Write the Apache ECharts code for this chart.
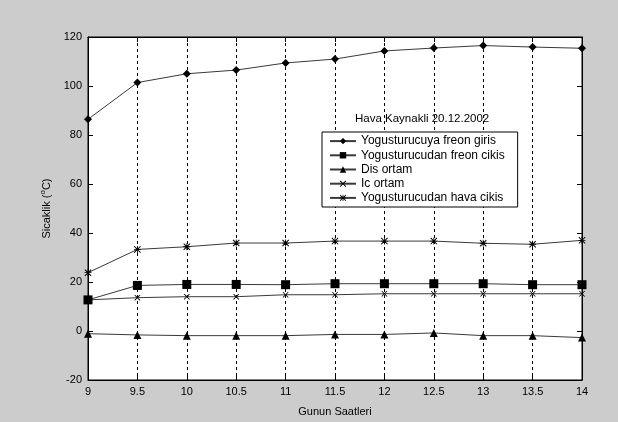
<!DOCTYPE html>
<html>
<head>
<meta charset="utf-8">
<style>
  html, body { margin: 0; padding: 0; background: #cccccc; }
  #chart { width: 618px; height: 422px; }
</style>
<script src="https://cdn.jsdelivr.net/npm/echarts@6/dist/echarts.min.js"></script>
</head>
<body>
<div id="chart"></div>
<script>
// Hours of the day (x values)
const hours = [9, 9.5, 10, 10.5, 11, 11.5, 12, 12.5, 13, 13.5, 14];

// Temperatures, °C
const freonGiris = [86.4, 101.4, 105, 106.5, 109.4, 111, 114.3, 115.5, 116.5, 115.9, 115.4];
const freonCikis = [12.7, 18.6, 19, 19, 18.9, 19.3, 19.3, 19.3, 19.3, 18.9, 18.9];
const disOrtam = [-1.1, -1.6, -1.9, -1.9, -1.9, -1.4, -1.4, -0.8, -1.9, -1.9, -2.7];
const icOrtam = [12.7, 13.6, 14, 14, 14.8, 14.8, 15.2, 15.2, 15.2, 15.2, 15.2];
const havaCikis = [23.8, 33.3, 34.4, 35.9, 35.9, 36.7, 36.7, 36.7, 35.8, 35.4, 37];

const seriesNames = [
  'Yogusturucuya freon giris',
  'Yogusturucudan freon cikis',
  'Dis ortam',
  'Ic ortam',
  'Yogusturucudan hava cikis'
];

const xTicks = { min: 9, max: 14, step: 0.5 };
const yTicks = { min: -20, max: 120, step: 20 };

const FONT = 'Liberation Sans, Arial, sans-serif';

// Marker shapes
const xMark = 'path://M0,1 L1,0 L5,4 L9,0 L10,1 L6,5 L10,9 L9,10 L5,6 L1,10 L0,9 L4,5 Z';
const starMark = 'path://M0,1 L1,0 L5,4 L9,0 L10,1 L6,5 L10,9 L9,10 L5,6 L1,10 L0,9 L4,5 Z ' +
  'M4.4,0 L5.6,0 L5.6,10 L4.4,10 Z M0,4.4 L10,4.4 L10,5.6 L0,5.6 Z';

function pairs(vals) {
  return hours.map((h, i) => [h, vals[i]]);
}

function lineSeries(name, vals, symbol, size) {
  return {
    name: name,
    type: 'line',
    data: pairs(vals),
    symbol: symbol,
    symbolSize: size,
    showAllSymbol: true,
    lineStyle: { color: '#3a3a3a', width: 1 },
    itemStyle: { color: '#000' },
    emphasis: { disabled: true },
    animation: false,
    z: 3
  };
}

const chart = echarts.init(document.getElementById('chart'), null, { renderer: 'canvas' });

const axisCommon = {
  type: 'value',
  axisLine: { show: true, onZero: false, lineStyle: { color: '#000', width: 1 } },
  axisTick: { show: true, inside: true, length: 5, lineStyle: { color: '#000' } },
  axisLabel: { color: '#000', fontFamily: FONT, fontSize: 11 }
};

chart.setOption({
  backgroundColor: '#cccccc',
  animation: false,
  textStyle: { fontFamily: FONT },
  grid: {
    left: 88, right: 36, top: 37, bottom: 42,
    show: true, backgroundColor: '#ffffff', borderColor: '#000', borderWidth: 1
  },
  xAxis: [
    Object.assign({}, axisCommon, {
      position: 'bottom',
      min: xTicks.min, max: xTicks.max, interval: xTicks.step,
      axisLabel: Object.assign({}, axisCommon.axisLabel, { margin: 6 }),
      splitLine: { show: true, lineStyle: { color: '#000', type: [3, 3], width: 1 } },
      name: 'Gunun Saatleri',
      nameLocation: 'middle',
      nameGap: 26,
      nameTextStyle: { color: '#000', fontFamily: FONT, fontSize: 11 }
    }),
    Object.assign({}, axisCommon, {
      position: 'top',
      min: xTicks.min, max: xTicks.max, interval: xTicks.step,
      axisLabel: { show: false },
      splitLine: { show: false }
    })
  ],
  yAxis: [
    Object.assign({}, axisCommon, {
      position: 'left',
      min: yTicks.min, max: yTicks.max, interval: yTicks.step,
      axisLabel: Object.assign({}, axisCommon.axisLabel, { margin: 6 }),
      splitLine: { show: false },
      name: '{t|Sicaklik (}{sup|o}{t|C)}',
      nameLocation: 'middle',
      nameGap: 35,
      nameTextStyle: {
        color: '#000', fontFamily: FONT, fontSize: 11,
        rich: {
          t: { fontSize: 11, color: '#000', fontFamily: FONT, lineHeight: 14, verticalAlign: 'bottom' },
          sup: { fontSize: 8, color: '#000', fontFamily: FONT, lineHeight: 14, verticalAlign: 'top' }
        }
      }
    }),
    Object.assign({}, axisCommon, {
      position: 'right',
      min: yTicks.min, max: yTicks.max, interval: yTicks.step,
      axisLabel: { show: false },
      splitLine: { show: false }
    })
  ],
  legend: {
    orient: 'vertical',
    left: 322,
    top: 132,
    padding: [2, 13, 2, 7],
    backgroundColor: '#ffffff',
    borderColor: '#000',
    borderWidth: 1,
    borderRadius: 0,
    itemWidth: 26,
    itemHeight: 8,
    itemGap: 0,
    data: seriesNames,
    textStyle: { color: '#000', fontFamily: FONT, fontSize: 12, lineHeight: 14.2 },
    selectedMode: false
  },
  graphic: [{
    type: 'text',
    left: 355,
    top: 113,
    style: { text: 'Hava Kaynakli 20.12.2002', fill: '#000', font: '11.5px ' + FONT }
  }],
  series: [
    lineSeries(seriesNames[0], freonGiris, 'diamond', 8),
    lineSeries(seriesNames[1], freonCikis, 'rect', 9),
    lineSeries(seriesNames[2], disOrtam, 'triangle', 8),
    lineSeries(seriesNames[3], icOrtam, xMark, 6),
    lineSeries(seriesNames[4], havaCikis, starMark, 7)
  ]
});
</script>
</body>
</html>
